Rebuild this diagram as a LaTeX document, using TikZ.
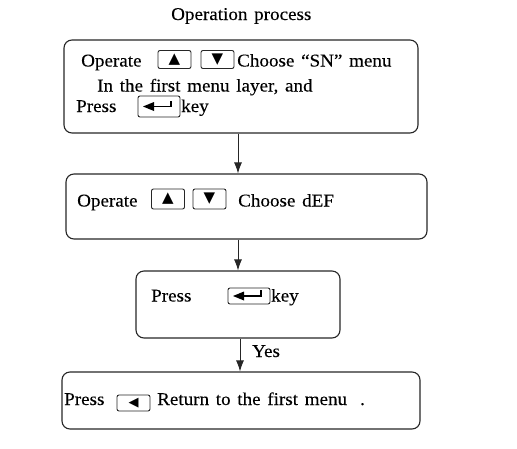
\documentclass[tikz,border=0pt]{standalone}
\usepackage{fontspec}
\setmainfont[FakeStretch=1.06,WordSpace=1.4,FakeBold=0.15]{Liberation Serif}
\newfontfamily\symfont{DejaVu Sans}
\usetikzlibrary{arrows.meta}
\tikzset{
  x=1pt,y=-1pt,
  stepbox/.style={draw=black!85,line width=1.1pt,rounded corners=8pt,inner sep=0pt},
  keybox/.style={draw=black!85,line width=0.9pt,rounded corners=2pt,inner sep=0pt,minimum width=33pt,minimum height=18pt,font=\symfont\fontsize{15}{15}\selectfont},
  txt/.style={anchor=base west,inner sep=0pt,font=\fontsize{18}{20}\selectfont},
  arr/.style={draw=black!85,line width=0.9pt,-{Latex[length=11pt,width=8pt]}}
}
\begin{document}
\begin{tikzpicture}
\useasboundingbox (0,0) rectangle (517,448);
% title
\node[txt] (title) at (171,20) {Operation process};
% boxes
\node[stepbox,minimum width=354pt,minimum height=93pt] (b1) at (241,86.5) {};
\node[stepbox,minimum width=361pt,minimum height=65pt] (b2) at (246.5,206.5) {};
\node[stepbox,minimum width=204pt,minimum height=67pt] (b3) at (238,304.5) {};
\node[stepbox,minimum width=358pt,minimum height=57pt] (b4) at (241,400.5) {};
% box 1 content
\node[txt] (t1a) at (81,66.5) {Operate};
\node[keybox] (k1u) at (174.5,59.5) {▲};
\node[keybox] (k1d) at (217.5,59.5) {▼};
\node[txt] (t1b) at (237,66.5) {Choose “SN” menu};
\node[txt] (t1c) at (97,91.5) {In the first menu layer, and};
\node[txt] (t1d) at (76,112) {Press};
\node[keybox,minimum width=42pt,minimum height=21pt] (k1e) at (159,106.5) {};
\node[txt] (t1e) at (181,112) {key};
% box 2 content
\node[txt] (t2a) at (77,206.5) {Operate};
\node[keybox,minimum height=20pt] (k2u) at (168,199) {▲};
\node[keybox,minimum height=20pt] (k2d) at (209.5,199) {▼};
\node[txt] (t2b) at (238,206.5) {Choose dEF};
% box 3 content
\node[txt] (t3a) at (151,301.5) {Press};
\node[keybox,minimum width=42pt,minimum height=16pt] (k3e) at (249,296) {};
\node[txt] (t3b) at (271,301.5) {key};
% box 4 content
\node[txt] (t4a) at (64,405) {Press};
\node[keybox,minimum width=33pt,minimum height=16pt,font=\symfont\fontsize{13}{13}\selectfont] (k4l) at (133.5,403) {◀};
\node[txt] (t4b) at (157,405) {Return to the first menu\hspace{13pt}.};
% enter key symbols
\foreach \k in {k1e,k3e}{
  \fill ([xshift=-16pt]\k.center) -- ([xshift=-5pt,yshift=-4.5pt]\k.center) -- ([xshift=-5pt,yshift=4.5pt]\k.center) -- cycle;
  \draw[line width=1.3pt] ([xshift=-6pt]\k.center) -- ([xshift=12pt]\k.center) -- ([xshift=12pt,yshift=6pt]\k.center);
}
% connectors
\draw[arr] (b1.south -| b3.north) -- (b2.north -| b3.north);
\draw[arr] (b2.south -| b3.north) -- (b3.north);
\draw[arr] ([xshift=2pt]b3.south) -- ([xshift=2pt]b3.south |- b4.north);
\node[txt] (yes) at (252,357) {Yes};
\end{tikzpicture}
\end{document}
